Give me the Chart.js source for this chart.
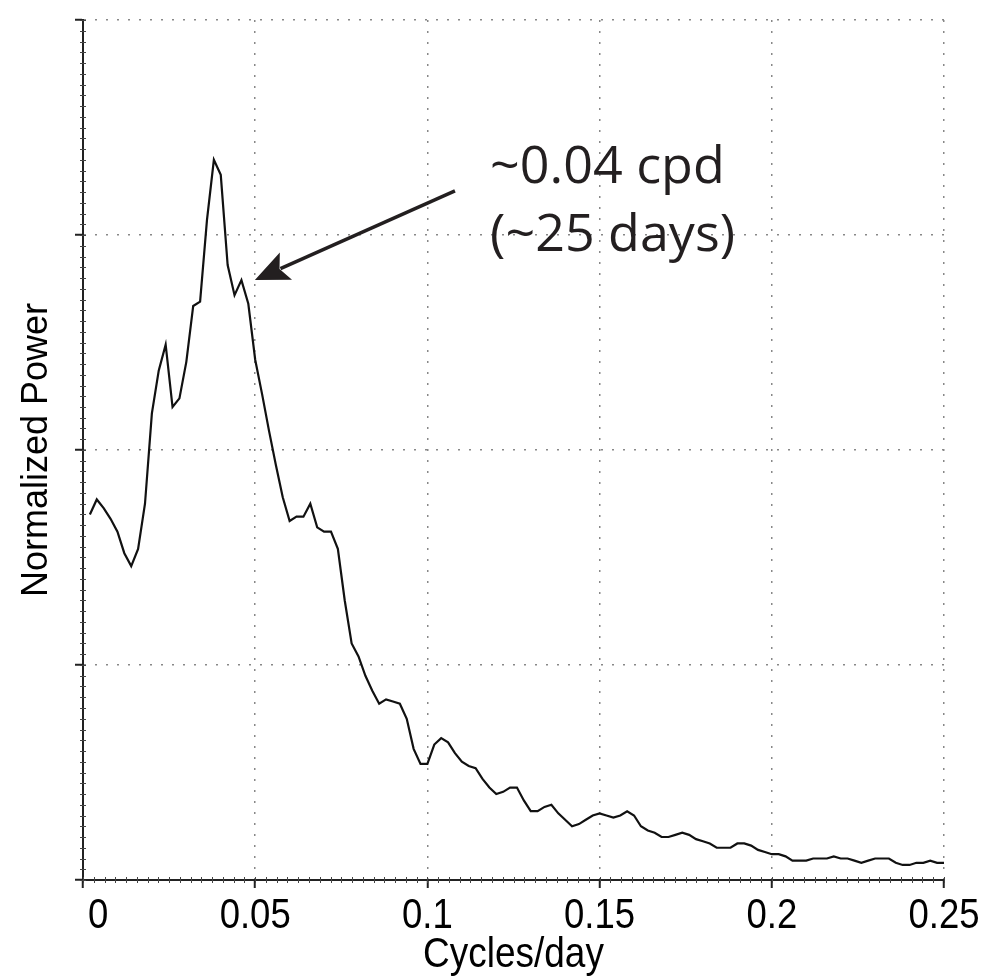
<!DOCTYPE html>
<html>
<head>
<meta charset="utf-8">
<script src="https://cdn.jsdelivr.net/npm/chart.js@4.4.1/dist/chart.umd.min.js"></script>
<style>
  body { margin: 0; background: #fff; }
  #wrap { width: 988px; height: 978px; }
</style>
</head>
<body>
<div id="wrap"><canvas id="spec" width="988" height="978"></canvas></div>
<script>
// frequency bins (cycles/day)
const freq = [
  0.002, 0.004, 0.006, 0.008, 0.010, 0.012, 0.014, 0.016, 0.018, 0.020,
  0.022, 0.024, 0.026, 0.028, 0.030, 0.032, 0.034, 0.036, 0.038, 0.040,
  0.042, 0.044, 0.046, 0.048, 0.050, 0.052, 0.054, 0.056, 0.058, 0.060,
  0.062, 0.064, 0.066, 0.068, 0.070, 0.072, 0.074, 0.076, 0.078, 0.080,
  0.082, 0.084, 0.086, 0.088, 0.090, 0.092, 0.094, 0.096, 0.098, 0.100,
  0.102, 0.104, 0.106, 0.108, 0.110, 0.112, 0.114, 0.116, 0.118, 0.120,
  0.122, 0.124, 0.126, 0.128, 0.130, 0.132, 0.134, 0.136, 0.138, 0.140,
  0.142, 0.144, 0.146, 0.148, 0.150, 0.152, 0.154, 0.156, 0.158, 0.160,
  0.162, 0.164, 0.166, 0.168, 0.170, 0.172, 0.174, 0.176, 0.178, 0.180,
  0.182, 0.184, 0.186, 0.188, 0.190, 0.192, 0.194, 0.196, 0.198, 0.200,
  0.202, 0.204, 0.206, 0.208, 0.210, 0.212, 0.214, 0.216, 0.218, 0.220,
  0.222, 0.224, 0.226, 0.228, 0.230, 0.232, 0.234, 0.236, 0.238, 0.240,
  0.242, 0.244, 0.246, 0.248, 0.250
];

// normalized power
const power = [
  1.70, 1.77, 1.73, 1.68, 1.62, 1.52, 1.46, 1.54, 1.75, 2.17,
  2.37, 2.49, 2.20, 2.24, 2.41, 2.67, 2.69, 3.07, 3.35, 3.28,
  2.86, 2.72, 2.79, 2.68, 2.42, 2.26, 2.09, 1.93, 1.78, 1.67,
  1.69, 1.69, 1.75, 1.64, 1.62, 1.62, 1.54, 1.30, 1.10, 1.04,
  0.95, 0.88, 0.82, 0.84, 0.83, 0.82, 0.75, 0.61, 0.54, 0.54,
  0.63, 0.66, 0.64, 0.59, 0.55, 0.53, 0.52, 0.47, 0.43, 0.40,
  0.41, 0.43, 0.43, 0.37, 0.32, 0.32, 0.34, 0.35, 0.31, 0.28,
  0.25, 0.26, 0.28, 0.30, 0.31, 0.30, 0.29, 0.30, 0.32, 0.30,
  0.25, 0.23, 0.22, 0.20, 0.20, 0.21, 0.22, 0.21, 0.19, 0.18,
  0.17, 0.15, 0.15, 0.15, 0.17, 0.17, 0.16, 0.14, 0.13, 0.12,
  0.12, 0.11, 0.09, 0.09, 0.09, 0.10, 0.10, 0.10, 0.11, 0.10,
  0.10, 0.09, 0.08, 0.09, 0.10, 0.10, 0.10, 0.08, 0.07, 0.07,
  0.08, 0.08, 0.09, 0.08, 0.08
];

const xTitle = 'Cycles/day';
const yTitle = 'Normalized Power';
const noteLines = ['~0.04 cpd', '(~25 days)'];
// note text and arrow, in data units
const noteAt = { x: 0.1182, y1: 3.242, y2: 2.926 };
const arrowFrom = { x: 0.108, y: 3.205 };
const arrowTo = { x: 0.0499, y: 2.791 };

const sansFamily = "'Liberation Sans', Arial, sans-serif";
const squeeze = 0.85; // the x labels are set in a condensed face

// small minor ticks along both axes
const minorTicks = {
  id: 'minorTicks',
  afterDraw(chart) {
    const ctx = chart.ctx;
    const xs = chart.scales.x, ys = chart.scales.y;
    const area = chart.chartArea;
    ctx.save();
    ctx.strokeStyle = '#444';
    ctx.lineWidth = 1;
    ctx.beginPath();
    for (let v = 0; v <= 0.25 + 1e-9; v += 0.003125) {
      const px = Math.round(xs.getPixelForValue(v)) + 0.5;
      ctx.moveTo(px, area.bottom - 3);
      ctx.lineTo(px, area.bottom + 3);
    }
    for (let v = 0; v <= 4 + 1e-9; v += 0.05) {
      const py = Math.round(ys.getPixelForValue(v)) + 0.5;
      ctx.moveTo(area.left - 3, py);
      ctx.lineTo(area.left + 3, py);
    }
    ctx.stroke();
    ctx.restore();
  }
};

// condensed x tick labels and x title
const xLabels = {
  id: 'xLabels',
  afterDraw(chart) {
    const ctx = chart.ctx;
    const xs = chart.scales.x;
    const area = chart.chartArea;
    ctx.save();
    ctx.fillStyle = '#000';
    ctx.textBaseline = 'alphabetic';
    ctx.font = `43px ${sansFamily}`;
    xs.ticks.forEach((t, i) => {
      const label = String(+Number(t.value).toFixed(2));
      const px = xs.getPixelForValue(t.value);
      ctx.save();
      ctx.translate(px, area.bottom + 48);
      ctx.scale(squeeze, 1);
      if (i === 0) {
        ctx.textAlign = 'left';
        ctx.fillText(label, 6, 0);
      } else {
        ctx.textAlign = 'center';
        ctx.fillText(label, 0, 0);
      }
      ctx.restore();
    });
    ctx.font = `42px ${sansFamily}`;
    ctx.textAlign = 'center';
    ctx.translate((area.left + area.right) / 2, area.bottom + 87);
    ctx.scale(squeeze + 0.03, 1);
    ctx.fillText(xTitle, 0, 0);
    ctx.restore();
  }
};

// text note and arrow
const note = {
  id: 'note',
  afterDraw(chart) {
    const ctx = chart.ctx;
    const xs = chart.scales.x, ys = chart.scales.y;
    ctx.save();
    ctx.fillStyle = '#231f20';
    ctx.font = "52px 'Open Sans', 'Noto Sans', sans-serif";
    ctx.textBaseline = 'alphabetic';
    ctx.textAlign = 'left';
    const tx = xs.getPixelForValue(noteAt.x);
    ctx.fillText(noteLines[0], tx, ys.getPixelForValue(noteAt.y1));
    ctx.fillText(noteLines[1], tx, ys.getPixelForValue(noteAt.y2));

    const x1 = xs.getPixelForValue(arrowFrom.x), y1 = ys.getPixelForValue(arrowFrom.y);
    const x2 = xs.getPixelForValue(arrowTo.x), y2 = ys.getPixelForValue(arrowTo.y);
    const ang = Math.atan2(y2 - y1, x2 - x1);
    const len = 34, half = 15;
    const bx = x2 - Math.cos(ang) * len, by = y2 - Math.sin(ang) * len;
    ctx.strokeStyle = '#231f20';
    ctx.lineWidth = 3.5;
    ctx.beginPath();
    ctx.moveTo(x1, y1);
    ctx.lineTo(bx + Math.cos(ang) * 6, by + Math.sin(ang) * 6);
    ctx.stroke();
    ctx.beginPath();
    ctx.moveTo(x2, y2);
    ctx.lineTo(bx - Math.sin(ang) * half, by + Math.cos(ang) * half);
    ctx.lineTo(bx + Math.cos(ang) * 7, by + Math.sin(ang) * 7);
    ctx.lineTo(bx + Math.sin(ang) * half, by - Math.cos(ang) * half);
    ctx.closePath();
    ctx.fill();
    ctx.restore();
  }
};

const ctx = document.getElementById('spec').getContext('2d');
new Chart(ctx, {
  type: 'line',
  data: {
    datasets: [
      {
        data: freq.map((f, i) => ({ x: f, y: power[i] })),
        borderColor: '#111',
        borderWidth: 2.2,
        pointRadius: 0,
        tension: 0,
        fill: false
      }
    ]
  },
  options: {
    responsive: false,
    devicePixelRatio: 1,
    animation: false,
    layout: { padding: { top: 20, right: 44, left: 0, bottom: 0 } },
    plugins: {
      legend: { display: false },
      tooltip: { enabled: false }
    },
    scales: {
      x: {
        type: 'linear',
        min: 0,
        max: 0.25,
        afterFit: (s) => { s.height = 98; },
        border: { display: true, color: '#222', width: 2, dash: [2, 9] },
        grid: {
          color: '#888',
          lineWidth: 1.5,
          drawTicks: true,
          tickLength: 8,
          tickColor: '#222',
          tickWidth: 2
        },
        ticks: { stepSize: 0.05, display: false },
        title: { display: false }
      },
      y: {
        min: 0,
        max: 4,
        afterFit: (s) => { s.width = 83; },
        border: { display: true, color: '#222', width: 2, dash: [2, 9] },
        grid: {
          color: '#888',
          lineWidth: 1.5,
          drawTicks: true,
          tickLength: 8,
          tickColor: '#222',
          tickWidth: 2
        },
        ticks: { stepSize: 1, display: false },
        title: {
          display: true,
          text: yTitle,
          color: '#000',
          font: { family: sansFamily, size: 36 },
          padding: { top: 15, bottom: 0 }
        }
      }
    }
  },
  plugins: [minorTicks, xLabels, note]
});
</script>
</body>
</html>
